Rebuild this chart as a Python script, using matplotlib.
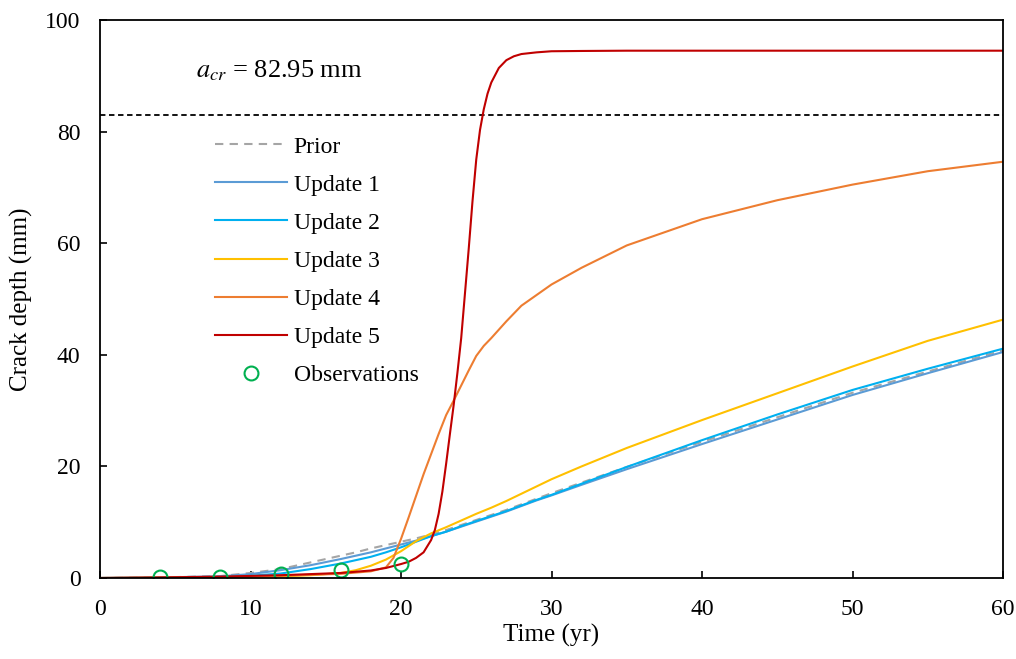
import numpy as np
import matplotlib
matplotlib.use('Agg')
import matplotlib.pyplot as plt

plt.rcParams['font.family'] = ['Liberation Serif', 'DejaVu Serif']
plt.rcParams['mathtext.fontset'] = 'stix'

# common time grid for the slow curves
t = [0, 4, 8, 10, 12, 14, 16, 17, 18, 19, 20, 21, 22, 23, 24, 25, 26, 27, 28, 29, 30,
     32, 35, 40, 45, 50, 55, 60]

prior = [0, 0.1, 0.35, 0.9, 1.6, 2.8, 4.0, 4.6, 5.3, 5.9, 6.5, 7.1, 7.8, 8.6, 9.5, 10.4,
         11.3, 12.2, 13.2, 14.2, 15.2, 17.1, 19.9, 24.4, 28.8, 33.2, 37.0, 40.8]
update1 = [0, 0.1, 0.3, 0.7, 1.4, 2.3, 3.4, 4.0, 4.6, 5.3, 6.0, 6.7, 7.5, 8.3, 9.2, 10.1,
           11.0, 11.9, 12.9, 13.9, 14.8, 16.7, 19.5, 24.0, 28.4, 32.8, 36.7, 40.5]
update2 = [0, 0.05, 0.2, 0.4, 0.8, 1.6, 2.6, 3.2, 3.8, 4.6, 5.5, 6.5, 7.5, 8.3, 9.3, 10.2,
           11.1, 12.0, 13.0, 14.0, 14.9, 16.9, 19.9, 24.7, 29.3, 33.7, 37.5, 41.1]
update3 = [0, 0.05, 0.1, 0.2, 0.3, 0.5, 0.9, 1.4, 2.2, 3.3, 4.8, 6.6, 8.0, 9.1, 10.3, 11.5,
           12.6, 13.8, 15.1, 16.4, 17.7, 20.0, 23.3, 28.3, 33.1, 37.9, 42.5, 46.3]

# denser grid for the fast-growing updates
t4 = [0, 4, 8, 12, 16, 18, 19, 19.5, 20, 20.5, 21, 21.5, 22, 22.5, 23, 23.5, 24, 24.5, 25,
      25.5, 26, 27, 28, 29, 30, 32, 35, 40, 45, 50, 55, 60]
update4 = [0, 0.05, 0.15, 0.4, 0.75, 1.2, 1.9, 3.6, 7.0, 10.8, 14.7, 18.6, 22.2, 25.8, 29.2,
           31.8, 34.5, 37.2, 39.8, 41.6, 43.0, 46.0, 48.8, 50.7, 52.6, 55.6, 59.6, 64.3, 67.7,
           70.5, 72.9, 74.6]

t5 = [0, 4, 8, 12, 16, 18, 19, 20, 20.5, 21, 21.5, 22, 22.25, 22.5, 22.75, 23, 23.25, 23.5,
      23.75, 24, 24.25, 24.5, 24.75, 25, 25.25, 25.5, 25.75, 26, 26.5, 27, 27.5, 28, 29, 30,
      32, 35, 40, 60]
update5 = [0, 0.1, 0.25, 0.5, 0.9, 1.35, 1.8, 2.5, 2.9, 3.6, 4.6, 6.8, 8.6, 11.5, 15.5, 20.5,
           25.8, 31.0, 36.8, 43.0, 51.0, 59.0, 67.5, 75.0, 80.3, 84.0, 86.8, 88.8, 91.4, 92.8,
           93.5, 93.9, 94.2, 94.4, 94.45, 94.5, 94.5, 94.5]

obs_t = [4, 8, 12, 16, 20]
obs_a = [0.1, 0.25, 0.7, 1.4, 2.5]

a_cr = 82.95

fig = plt.figure(figsize=(10.16, 6.59), dpi=100)
ax = fig.add_axes([100 / 1016, 1 - 578 / 659, 903 / 1016, 558 / 659])

ax.axhline(a_cr, color='black', lw=1.3, ls=(0, (3, 2)))
ax.plot(t, prior, color='#A5A5A5', lw=1.5, ls=(0, (4, 3)), label='Prior')
ax.plot(t, update1, color='#5B9BD5', lw=1.5, label='Update 1')
ax.plot(t, update2, color='#00B0F0', lw=1.5, label='Update 2')
ax.plot(t, update3, color='#FFC000', lw=1.5, label='Update 3')
ax.plot(t4, update4, color='#ED7D31', lw=1.5, label='Update 4')
ax.plot(t5, update5, color='#C00000', lw=1.5, label='Update 5')
ax.plot(obs_t, obs_a, 'o', mfc='none', mec='#00B050', mew=1.5, ms=10, label='Observations')

ax.text(6.4, 91, r'$a_{cr}$ = 82.95 mm', fontsize=19, va='center', ha='left')

ax.set_xlim(0, 60)
ax.set_ylim(0, 100)
ax.set_xticks(range(0, 61, 10))
ax.set_yticks(range(0, 101, 20))
ax.tick_params(direction='in', labelsize=17, length=5, width=1.2)
ax.tick_params(axis='x', pad=15)
ax.tick_params(axis='y', pad=14)
for s in ax.spines.values():
    s.set_linewidth(1.3)
ax.set_xlabel('Time (yr)', fontsize=18, labelpad=3)
ax.set_ylabel('Crack depth (mm)', fontsize=18, labelpad=9)

ax.legend(loc='upper left', bbox_to_anchor=(0.1035, 0.83), frameon=False, fontsize=17,
          handlelength=3.05, labelspacing=0.7, handletextpad=0.3)

fig.savefig('out.png', dpi=100)
